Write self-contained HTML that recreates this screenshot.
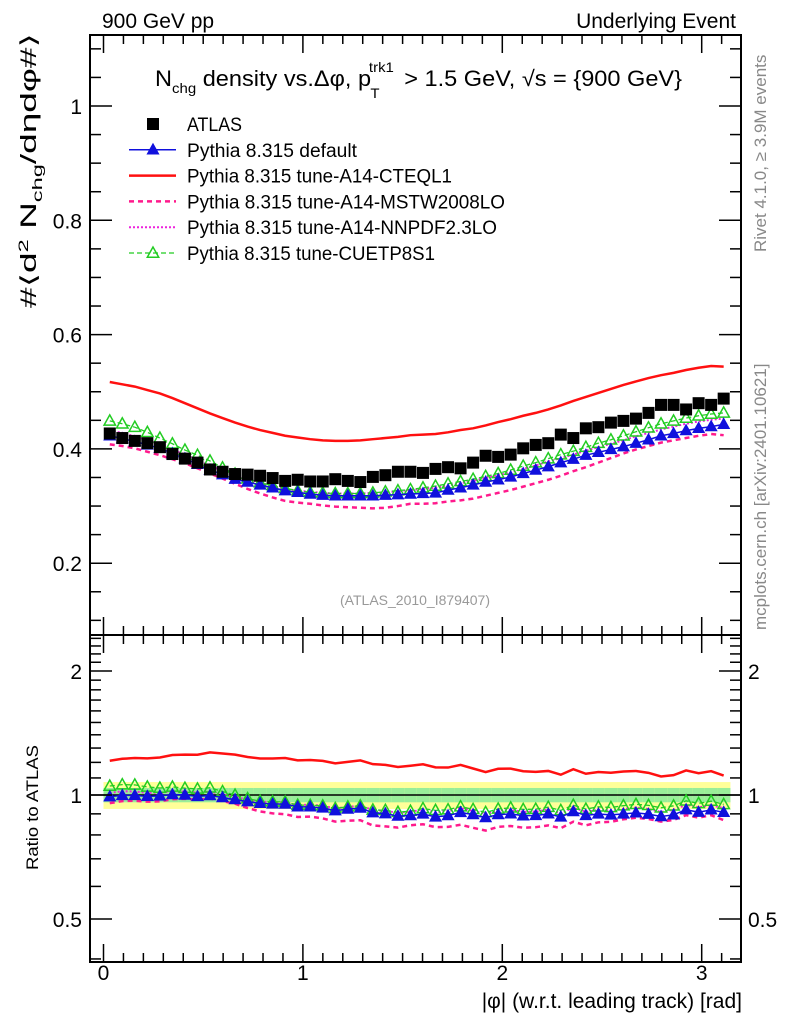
<!DOCTYPE html>
<html><head><meta charset="utf-8"><style>
html,body{margin:0;padding:0;background:#fff;}
svg{display:block;font-family:"Liberation Sans Narrow","Liberation Sans",sans-serif;}
</style></head><body>
<svg id="chart" width="786" height="1024" viewBox="0 0 786 1024" xmlns="http://www.w3.org/2000/svg">
<text x="102" y="28" font-size="21">900 GeV pp</text>
<text x="736" y="28" font-size="21" text-anchor="end">Underlying Event</text>
<text x="155" y="86" font-size="22" textLength="527" lengthAdjust="spacingAndGlyphs">N<tspan font-size="14" dy="7">chg</tspan><tspan dy="-7"> density vs.Δφ, p</tspan><tspan font-size="14" dx="-2" dy="-14">trk1</tspan><tspan font-size="14" dx="-22" dy="26">T</tspan><tspan dx="17" dy="-12"> &gt; 1.5 GeV, √s = {900 GeV}</tspan></text>
<text transform="translate(36,308) rotate(-90)" font-size="22" textLength="275" lengthAdjust="spacingAndGlyphs">#⟨d<tspan font-size="14" dy="-8">2</tspan><tspan dy="8"> N</tspan><tspan font-size="14" dy="6">chg</tspan><tspan dy="-6">/dηdφ#⟩</tspan></text>
<text transform="translate(766,252) rotate(-90)" font-size="17" fill="#888">Rivet 4.1.0, ≥ 3.9M events</text>
<text transform="translate(766,630) rotate(-90)" font-size="17" fill="#888">mcplots.cern.ch [arXiv:2401.10621]</text>
<text x="415" y="605" font-size="14" fill="#999" text-anchor="middle">(ATLAS_2010_I879407)</text>
<text transform="translate(38,870) rotate(-90)" font-size="17" textLength="125" lengthAdjust="spacingAndGlyphs">Ratio to ATLAS</text>
<text x="742" y="1008" font-size="21" text-anchor="end">|φ| (w.r.t. leading track) [rad]</text>
<g id="ratioBand"></g>
<g id="mainG"></g>
<g id="ratioG"></g>
<g id="axes"></g>
<g id="legend"></g>
</svg>
<script>
const atlas=[0.427,0.419,0.414,0.410,0.403,0.391,0.383,0.376,0.364,0.360,0.356,0.355,0.353,0.349,0.344,0.346,0.343,0.343,0.347,0.344,0.342,0.351,0.354,0.360,0.360,0.358,0.365,0.368,0.366,0.376,0.388,0.386,0.390,0.401,0.407,0.410,0.425,0.419,0.436,0.438,0.446,0.449,0.453,0.463,0.477,0.477,0.469,0.480,0.477,0.488];
const pyDefault=[0.423,0.418,0.413,0.407,0.401,0.392,0.383,0.373,0.363,0.355,0.347,0.342,0.337,0.332,0.327,0.324,0.321,0.319,0.318,0.318,0.318,0.318,0.319,0.320,0.321,0.322,0.323,0.328,0.332,0.337,0.342,0.346,0.351,0.357,0.363,0.369,0.376,0.382,0.389,0.394,0.399,0.404,0.410,0.416,0.423,0.427,0.432,0.436,0.439,0.443];
const pyCTEQ=[0.517,0.513,0.509,0.503,0.497,0.489,0.480,0.471,0.462,0.454,0.446,0.439,0.433,0.428,0.423,0.420,0.417,0.415,0.414,0.414,0.415,0.417,0.419,0.421,0.424,0.425,0.426,0.429,0.433,0.436,0.441,0.447,0.452,0.458,0.463,0.469,0.476,0.484,0.491,0.498,0.505,0.512,0.518,0.524,0.529,0.533,0.538,0.542,0.545,0.544];
const pyMSTW=[0.408,0.405,0.401,0.395,0.389,0.382,0.375,0.366,0.357,0.348,0.339,0.330,0.322,0.315,0.309,0.306,0.304,0.301,0.299,0.298,0.297,0.296,0.297,0.300,0.304,0.304,0.305,0.308,0.310,0.313,0.318,0.323,0.328,0.334,0.340,0.346,0.353,0.361,0.368,0.376,0.384,0.392,0.399,0.405,0.411,0.415,0.419,0.423,0.426,0.424];
const pyNNPDF=[0.432,0.428,0.422,0.415,0.408,0.399,0.390,0.381,0.371,0.361,0.352,0.346,0.340,0.335,0.330,0.327,0.325,0.323,0.322,0.322,0.322,0.323,0.324,0.326,0.328,0.330,0.332,0.336,0.340,0.344,0.349,0.354,0.359,0.365,0.371,0.378,0.384,0.390,0.397,0.403,0.409,0.415,0.422,0.428,0.434,0.439,0.444,0.448,0.451,0.453];
const pyCUETP=[0.449,0.444,0.438,0.429,0.419,0.409,0.398,0.389,0.379,0.367,0.356,0.348,0.341,0.336,0.331,0.327,0.324,0.323,0.322,0.322,0.322,0.323,0.325,0.327,0.329,0.332,0.335,0.339,0.343,0.347,0.352,0.357,0.363,0.370,0.376,0.383,0.390,0.396,0.403,0.410,0.416,0.423,0.430,0.437,0.444,0.449,0.454,0.458,0.461,0.463];
const statErr=0.04, totErr=0.075;
const xTicks=[0,1,2,3];
const yTicks=[0.2,0.4,0.6,0.8,1];
const rTicks=[0.5,1,2];

const NS="http://www.w3.org/2000/svg";
const L=90,R=741,T=35,MB=635,RB=962;
const N=atlas.length, bw=Math.PI/N;
const X=v=>103.5+v*199.4;
const Y=v=>106+(1-v)*571.5;
const RY=v=>795-Math.log10(v)*412;
const xc=i=>X((i+0.5)*bw);
function mk(tag,attrs,parent){const e=document.createElementNS(NS,tag);for(const k in attrs)e.setAttribute(k,attrs[k]);parent.appendChild(e);return e;}
const mainG=document.getElementById('mainG'),ratioG=document.getElementById('ratioG'),axes=document.getElementById('axes'),band=document.getElementById('ratioBand'),leg=document.getElementById('legend');

for(let i=0;i<N;i++){
  const x0=X(i*bw),x1=X((i+1)*bw);
  const y=mk('rect',{x:x0,y:RY(1+totErr),width:x1-x0+0.5,height:RY(1-totErr)-RY(1+totErr),fill:'#ffff99'},band);
  
  
  const g=mk('rect',{x:x0,y:RY(1+statErr),width:x1-x0+0.5,height:RY(1-statErr)-RY(1+statErr),fill:'#99ee99'},band);
  
  
}
const one=mk('line',{x1:L,x2:R,y1:RY(1),y2:RY(1),stroke:'#000','stroke-width':1.5},band);



const series=[
 {d:pyCTEQ,c:'#ff1010',w:2.5,dash:'',m:null,name:'cteql1'},
 {d:pyMSTW,c:'#ff1a8c',w:2.5,dash:'5,4',m:null,name:'mstw2008lo'},
 {d:pyNNPDF,c:'#ee22dd',w:2,dash:'2,2',m:null,name:'nnpdf23lo'},
 {d:pyCUETP,c:'#22cc22',w:1.3,dash:'5,3',m:'open',name:'cuetp8s1'},
 {d:pyDefault,c:'#1010dd',w:1.5,dash:'',m:'tri',name:'default'}
];
function tri(g,x,y,c,open,s){const p=mk('polygon',{points:`${x},${y-s} ${x-s*0.95},${y+s*0.7} ${x+s*0.95},${y+s*0.7}`,fill:open?'none':c,stroke:c,'stroke-width':open?1.5:1},g);return p;}
series.forEach(s=>{
  [[mainG,i=>Y(s.d[i])],[ratioG,i=>RY(s.d[i]/atlas[i])]].forEach(([g,fy],k)=>{
    let pts=[];for(let i=0;i<N;i++)pts.push(xc(i)+','+fy(i));
    const pl=mk('polyline',{points:pts.join(' '),fill:'none',stroke:s.c,'stroke-width':s.w,'stroke-dasharray':s.dash},g);
    
    
    if(s.m){for(let i=0;i<N;i++){const t=tri(g,xc(i),fy(i),s.c,s.m==='open',6);
      
      }}
  });
});
for(let i=0;i<N;i++){
  const r=mk('rect',{x:xc(i)-6,y:Y(atlas[i])-6,width:12,height:12,fill:'#000'},mainG);
  
  
}

[[T,MB],[MB,RB]].forEach(([a,b],k)=>{
  const f=mk('rect',{x:L,y:a,width:R-L,height:b-a,fill:'none',stroke:'#000','stroke-width':2},axes);
  
  
});
for(let v=0;v<=3.15;v+=0.1){
  const maj=Math.abs(v-Math.round(v))<1e-6, x=X(v);
  [[T,1],[MB,-1],[MB,1],[RB,-1]].forEach(([y0,dir])=>{
    const len=maj?18:9;
    mk('line',{x1:x,x2:x,y1:y0,y2:y0+dir*len,stroke:'#000','stroke-width':1.5},axes);
  });
}
xTicks.forEach(v=>{const t=mk('text',{x:X(v),y:980,'font-size':21,'text-anchor':'middle'},axes);t.textContent=v;
 });
for(let v=0.1;v<=1.12;v+=0.05){const y=Y(v);if(y<T||y>MB)continue;
  const maj=Math.abs(v*5-Math.round(v*5))<1e-6,len=maj?22:11;
  mk('line',{x1:L,x2:L+len,y1:y,y2:y,stroke:'#000','stroke-width':1.5},axes);
  mk('line',{x1:R,x2:R-len,y1:y,y2:y,stroke:'#000','stroke-width':1.5},axes);}
yTicks.forEach(v=>{const t=mk('text',{x:82,y:Y(v)+8,'font-size':21,'text-anchor':'end'},axes);t.textContent=v;
 });
const rv=[];for(let v=0.4;v<2.45;v+=0.1)rv.push(Math.round(v*10)/10);
rv.forEach(v=>{const y=RY(v);if(y<MB||y>RB)return;const maj=rTicks.includes(v),len=maj?22:11;
  mk('line',{x1:L,x2:L+len,y1:y,y2:y,stroke:'#000','stroke-width':1.5},axes);
  mk('line',{x1:R,x2:R-len,y1:y,y2:y,stroke:'#000','stroke-width':1.5},axes);});
rTicks.forEach(v=>{
 const a=mk('text',{x:82,y:RY(v)+8,'font-size':21,'text-anchor':'end'},axes);a.textContent=v;
 
 const b=mk('text',{x:748,y:RY(v)+8,'font-size':21},axes);b.textContent=v;
 });

const legItems=[['ATLAS','sq'],['Pythia 8.315 default','default'],['Pythia 8.315 tune-A14-CTEQL1','cteql1'],['Pythia 8.315 tune-A14-MSTW2008LO','mstw2008lo'],['Pythia 8.315 tune-A14-NNPDF2.3LO','nnpdf23lo'],['Pythia 8.315 tune-CUETP8S1','cuetp8s1']];
const legW=[55,170,265,318,310,248];
legItems.forEach((it,k)=>{
  const y=124+k*25.8;
  const g=mk('g',{},leg);
  
  
  if(it[1]==='sq'){mk('rect',{x:147,y:y-6,width:12,height:12,fill:'#000'},g);}
  else{const s=series.find(z=>z.name===it[1]);
    mk('line',{x1:129,x2:176,y1:y,y2:y,stroke:s.c,'stroke-width':s.w,'stroke-dasharray':s.dash},g);
    if(s.m)tri(g,153,y,s.c,s.m==='open',6);}
  const t=mk('text',{x:187,y:y+7,'font-size':19,textLength:legW[k],lengthAdjust:'spacingAndGlyphs'},g);t.textContent=it[0];
});
</script>
</body></html>
